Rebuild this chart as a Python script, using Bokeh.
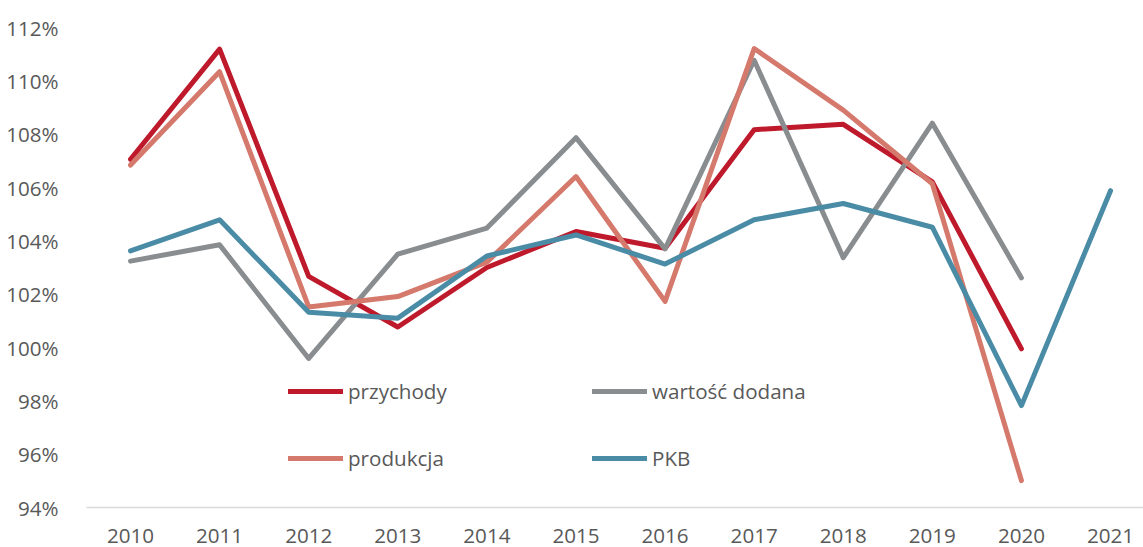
from bokeh.plotting import figure
from bokeh.models import Range1d, FixedTicker, PrintfTickFormatter, Legend, LegendItem
from bokeh.embed import file_html
from bokeh.resources import INLINE

years = ["2010", "2011", "2012", "2013", "2014", "2015", "2016", "2017", "2018", "2019", "2020", "2021"]

przychody = [107.06, 111.19, 102.67, 100.77, 103.0, 104.35, 103.72, 108.17, 108.37, 106.21, 99.95]
wartosc_dodana = [103.24, 103.85, 99.59, 103.5, 104.48, 107.87, 103.7, 110.77, 103.37, 108.41, 102.61]
produkcja = [106.84, 110.34, 101.52, 101.91, 103.2, 106.41, 101.73, 111.21, 108.9, 106.14, 95.01]
pkb = [103.62, 104.79, 101.32, 101.1, 103.43, 104.22, 103.13, 104.79, 105.4, 104.51, 97.82, 105.88]

y_ticks = [94, 96, 98, 100, 102, 104, 106, 108, 110, 112]

FONT = "Open Sans"
FSIZE = "20.6px"
TEXT = "#595959"

p = figure(width=1143, height=547, output_backend="svg", toolbar_location=None,
           x_range=Range1d(-0.494, 11.37), y_range=Range1d(94, 112),
           min_border_left=86, min_border_right=0, min_border_top=27, min_border_bottom=40)
p.outline_line_color = None
p.xgrid.grid_line_color = None
p.ygrid.grid_line_color = None

xi = list(range(len(years)))
p.xaxis.ticker = FixedTicker(ticks=xi)
p.xaxis.major_label_overrides = {i: y for i, y in enumerate(years)}
p.xaxis.axis_line_color = "#d9d9d9"
p.xaxis.axis_line_width = 1.5
p.xaxis.major_tick_line_color = None
p.xaxis.minor_tick_line_color = None
p.xaxis.major_label_standoff = 15
p.xaxis.major_label_text_font = FONT
p.xaxis.major_label_text_font_size = FSIZE
p.xaxis.major_label_text_color = TEXT

p.yaxis.ticker = FixedTicker(ticks=y_ticks)
p.yaxis.formatter = PrintfTickFormatter(format="%d%%")
p.yaxis.axis_line_color = None
p.yaxis.major_tick_line_color = None
p.yaxis.minor_tick_line_color = None
p.yaxis.major_label_standoff = 22
p.yaxis.major_label_text_font = FONT
p.yaxis.major_label_text_font_size = FSIZE
p.yaxis.major_label_text_color = TEXT

series = [
    ("przychody", przychody, "#be1a2c"),
    ("wartość dodana", wartosc_dodana, "#8a8d8f"),
    ("produkcja", produkcja, "#d4796c"),
    ("PKB", pkb, "#4a8ca6"),
]
renderers = {}
for name, vals, col in series:
    r = p.line(xi[:len(vals)], vals, line_color=col, line_width=5,
               line_cap="round", line_join="round")
    renderers[name] = r

legend_pos = {
    "przychody": (202, 102),
    "wartość dodana": (506, 102),
    "produkcja": (202, 35),
    "PKB": (506, 35),
}
for name, loc in legend_pos.items():
    lg = Legend(items=[LegendItem(label=name, renderers=[renderers[name]])],
                location=loc, padding=0, margin=0, spacing=0,
                glyph_width=55, glyph_height=28, label_height=28,
                label_standoff=5, border_line_color=None,
                background_fill_alpha=0,
                label_text_font=FONT, label_text_font_size=FSIZE,
                label_text_color=TEXT)
    p.add_layout(lg, "center")

open("out.html", "w").write(file_html(p, INLINE))
